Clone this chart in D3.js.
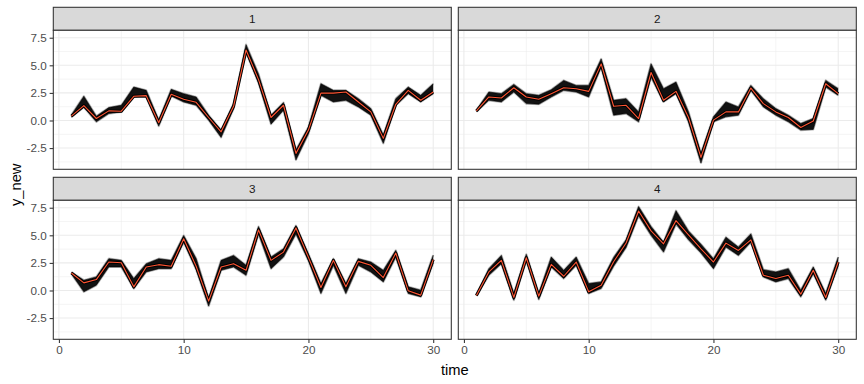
<!DOCTYPE html>
<html><head><meta charset="utf-8">
<script src="https://cdn.jsdelivr.net/npm/d3@7"></script>
<style>body{margin:0;background:#fff} svg{display:block}</style>
</head><body>
<svg id="chart" width="864" height="384"></svg>
<script>
// ---- data ----
const time = [1,2,3,4,5,6,7,8,9,10,11,12,13,14,15,16,17,18,19,20,21,22,23,24,25,26,27,28,29,30];
const panels = ["1","2","3","4"];

// observed series (red)
const obs1 = [0.39,1.35,0.18,0.87,0.84,2.19,2.25,-0.2,2.37,1.92,1.65,0.27,-1.03,1.29,6.39,3.7,0.27,1.38,-2.98,-0.87,2.48,2.48,2.58,1.68,0.78,-1.62,1.47,2.73,1.83,2.58];
const obs2 = [0.87,2.13,2.04,2.97,2.13,1.92,2.43,2.97,2.88,2.64,5.13,1.29,1.38,0.18,4.35,1.83,2.64,0.27,-3.34,0.03,0.78,0.78,2.94,1.53,0.78,0.27,-0.63,-0.05,3.33,2.43];
const obs3 = [1.59,0.69,0.99,2.58,2.52,0.33,2.13,2.34,2.19,4.68,2.2,-0.96,2.13,2.43,1.83,5.49,2.73,3.48,5.67,3.0,0.27,2.73,0.33,2.64,2.28,1.17,3.39,-0.03,-0.42,2.8];
const obs4 = [-0.45,1.68,2.73,-0.63,2.97,-0.51,2.37,1.29,2.58,-0.12,0.48,2.6,4.3,7.2,5.4,4.23,6.33,5.04,3.78,2.58,4.29,3.63,4.59,1.38,1.08,1.38,-0.33,1.83,-0.63,2.58];

// envelope of simulated series (black lines): lower and upper
const lo1 = [0.3,1.2,-0.12,0.63,0.78,2.13,2.13,-0.51,2.22,1.68,1.38,0.03,-1.53,1.08,6.18,3.4,-0.33,0.93,-3.57,-1.2,2.28,1.68,1.83,1.23,0.48,-2.07,1.38,2.43,1.68,2.43];
const hi1 = [0.5,2.2,0.39,1.17,1.38,3.03,2.73,0.03,2.82,2.43,2.13,0.48,-0.87,1.53,6.87,4.2,0.48,1.62,-2.67,-0.6,3.33,2.73,2.73,1.98,1.08,-1.32,1.98,3.03,2.28,3.33];
const lo2 = [0.8,1.83,1.68,2.58,1.53,1.47,2.13,2.73,2.58,2.13,4.83,0.48,0.63,-0.12,3.93,1.68,2.43,-0.12,-3.85,-0.12,0.33,0.48,2.73,1.23,0.48,-0.12,-0.87,-0.81,3.03,2.28];
const hi2 = [0.95,2.58,2.43,3.27,2.43,2.28,2.79,3.63,3.18,3.18,5.58,1.83,1.98,0.78,5.13,2.88,3.48,0.78,-2.97,0.33,1.68,1.23,3.18,1.98,1.08,0.48,-0.27,0.18,3.63,2.88];
const lo3 = [1.5,-0.12,0.48,2.13,2.13,0.18,1.68,1.98,1.98,4.38,1.9,-1.41,1.83,2.13,1.38,5.13,1.98,3.03,5.13,2.7,-0.27,2.28,-0.27,2.28,1.68,0.78,3.03,-0.27,-0.57,2.5];
const hi3 = [1.65,0.93,1.23,2.88,2.73,1.08,2.43,2.88,2.73,4.98,2.9,-0.72,2.73,3.18,2.28,5.79,3.03,3.78,5.88,3.3,0.63,2.88,0.63,2.88,2.58,1.83,3.63,0.33,0.03,3.2];
const lo4 = [-0.5,1.38,2.43,-0.87,2.73,-0.81,2.13,1.08,2.28,-0.27,0.18,2.2,3.9,6.78,5.0,3.48,6.03,4.6,3.4,1.98,3.93,3.18,4.38,1.23,0.78,1.08,-0.57,1.53,-0.87,2.28];
const hi4 = [-0.4,1.98,3.18,-0.27,3.27,-0.27,3.03,1.83,3.03,0.63,0.78,3.0,4.6,7.6,5.8,4.38,7.23,5.4,4.2,2.88,4.83,3.93,5.13,1.89,1.68,1.98,0.03,2.13,-0.27,3.03];

const obsAll = [obs1,obs2,obs3,obs4];
const loAll = [lo1,lo2,lo3,lo4];
const hiAll = [hi1,hi2,hi3,hi4];

const xTicks = [0,10,20,30];
const xMinor = [5,15,25];
const yTicks = [-2.5,0,2.5,5,7.5];
const yTickLabels = ["-2.5","0.0","2.5","5.0","7.5"];
const yMinor = [-3.75,-1.25,1.25,3.75,6.25];

// ---- layout ----
const svg = d3.select("#chart");
const font = "'Liberation Sans', Arial, sans-serif";
const colX = [53.3, 458.3];
const rowY = [7.3, 177.3];
const stripH = 23, panelW = 398, panelH = 139;

const xExt = d3.extent(time), xPad = (xExt[1]-xExt[0])*0.05;
const x = d3.scaleLinear().domain([xExt[0]-xPad, xExt[1]+xPad]).range([0, panelW]);
const yMin = d3.min(loAll.flat().concat(obsAll.flat()));
const yMax = d3.max(hiAll.flat().concat(obsAll.flat()));
const yPad = (yMax-yMin)*0.05;
const y = d3.scaleLinear().domain([yMin-yPad, yMax+yPad]).range([panelH, 0]);

svg.append("rect").attr("width",864).attr("height",384).attr("fill","#fff");

panels.forEach((p, i) => {
  const c = i % 2, r = Math.floor(i/2);
  const gs = svg.append("g").attr("transform", `translate(${colX[c]},${rowY[r]})`);
  gs.append("rect").attr("x",0).attr("y",0).attr("width",panelW).attr("height",stripH)
    .attr("fill","#D9D9D9").attr("stroke","#333333").attr("stroke-width",1.07);
  gs.append("text").attr("x",panelW/2).attr("y",stripH/2+4.2).attr("text-anchor","middle")
    .attr("font-family",font).attr("font-size","11.7px").attr("fill","#1A1A1A").text(p);

  const g = svg.append("g").attr("transform", `translate(${colX[c]},${rowY[r]+stripH})`);
  g.append("rect").attr("width",panelW).attr("height",panelH).attr("fill","#fff");
  const clipId = "clip"+i;
  g.append("clipPath").attr("id",clipId).append("rect").attr("width",panelW).attr("height",panelH);

  // grid
  g.selectAll(".ymin").data(yMinor).join("line").attr("x1",0).attr("x2",panelW)
    .attr("y1",d=>y(d)).attr("y2",d=>y(d)).attr("stroke","#EBEBEB").attr("stroke-width",0.55);
  g.selectAll(".xmin").data(xMinor).join("line").attr("y1",0).attr("y2",panelH)
    .attr("x1",d=>x(d)).attr("x2",d=>x(d)).attr("stroke","#EBEBEB").attr("stroke-width",0.55);
  g.selectAll(".ymaj").data(yTicks).join("line").attr("x1",0).attr("x2",panelW)
    .attr("y1",d=>y(d)).attr("y2",d=>y(d)).attr("stroke","#EBEBEB").attr("stroke-width",1.07);
  g.selectAll(".xmaj").data(xTicks).join("line").attr("y1",0).attr("y2",panelH)
    .attr("x1",d=>x(d)).attr("x2",d=>x(d)).attr("stroke","#EBEBEB").attr("stroke-width",1.07);

  const obs = obsAll[i], lo = loAll[i], hi = hiAll[i];
  const plot = g.append("g").attr("clip-path",`url(#${clipId})`);
  const area = d3.area().x((d,k)=>x(time[k])).y0((d,k)=>y(lo[k])).y1((d,k)=>y(hi[k]));
  const lineOf = arr => d3.line().x((d,k)=>x(time[k])).y((d,k)=>y(arr[k]))(arr);

  // outer fringe of simulated lines
  [hi, lo].forEach(arr => {
    plot.append("path").attr("d",lineOf(arr)).attr("fill","none").attr("stroke","rgba(0,0,0,0.25)")
      .attr("stroke-width",2.2).attr("stroke-linejoin","round");
    plot.append("path").attr("d",lineOf(arr)).attr("fill","none").attr("stroke","rgba(0,0,0,0.55)")
      .attr("stroke-width",1.0).attr("stroke-linejoin","round");
  });
  plot.append("path").attr("d",area(obs)).attr("fill","rgba(0,0,0,0.93)");
  plot.append("path").attr("d",lineOf(obs)).attr("fill","none").attr("stroke","#000")
    .attr("stroke-width",3.0).attr("stroke-linejoin","round");
  plot.append("path").attr("d",lineOf(obs)).attr("fill","none").attr("stroke","#FF5533")
    .attr("stroke-width",1.1).attr("stroke-linejoin","round");

  g.append("rect").attr("width",panelW).attr("height",panelH).attr("fill","none")
    .attr("stroke","#333333").attr("stroke-width",1.07);

  // axes
  if (c === 0) {
    const ax = g.append("g").call(d3.axisLeft(y).tickValues(yTicks)
      .tickFormat((d,k)=>yTickLabels[k]).tickSize(3.67).tickPadding(2.93));
    ax.select(".domain").remove();
    ax.selectAll("line").attr("stroke","#333333").attr("stroke-width",1.07);
    ax.selectAll("text").attr("fill","#4D4D4D").attr("font-family",font).attr("font-size","11.7px");
  }
  if (r === 1) {
    const ax = g.append("g").attr("transform",`translate(0,${panelH})`)
      .call(d3.axisBottom(x).tickValues(xTicks).tickFormat(d=>String(d)).tickSize(3.67).tickPadding(2.93));
    ax.select(".domain").remove();
    ax.selectAll("line").attr("stroke","#333333").attr("stroke-width",1.07);
    ax.selectAll("text").attr("fill","#4D4D4D").attr("font-family",font).attr("font-size","11.7px");
  }
});

// axis titles
svg.append("text").attr("x",(colX[0]+colX[1]+panelW)/2).attr("y",375).attr("text-anchor","middle")
  .attr("font-family",font).attr("font-size","14.7px").attr("fill","#000").text("time");
svg.append("text").attr("transform",`translate(20.5,${(rowY[0]+stripH+rowY[1]+stripH+panelH)/2}) rotate(-90)`)
  .attr("text-anchor","middle").attr("font-family",font).attr("font-size","14.7px").attr("fill","#000").text("y_new");
</script>
</body></html>
